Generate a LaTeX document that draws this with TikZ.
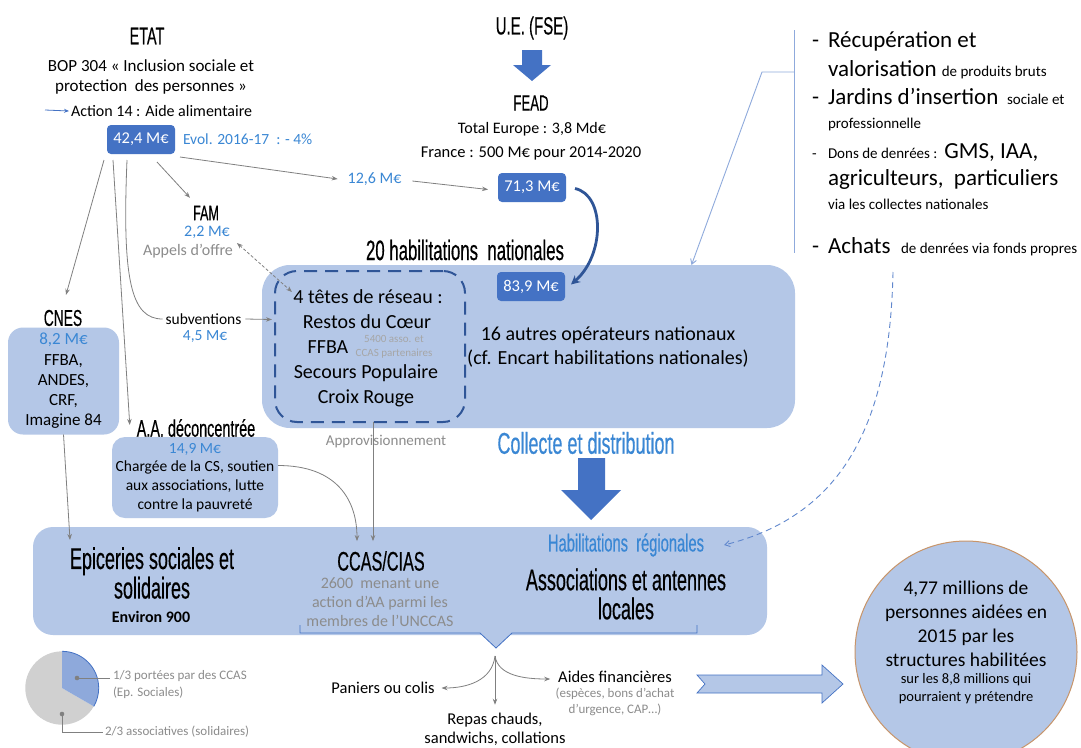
\documentclass[tikz,border=0pt]{standalone}
\usepackage{fontspec}
\setmainfont{Carlito}
\newfontfamily\cond[FakeStretch=0.6,FakeBold=0.4]{Liberation Sans}
\usetikzlibrary{arrows.meta,calc}
\definecolor{dblue}{HTML}{4472C4}
\definecolor{nblue}{HTML}{2F5597}
\definecolor{lblue}{HTML}{B4C7E7}
\definecolor{tblue}{HTML}{3A87D4}
\definecolor{lineblue}{HTML}{8FAADC}
\definecolor{agray}{HTML}{808080}
\definecolor{tgray}{HTML}{8C8C8C}
\definecolor{sgray}{HTML}{A6A6A6}
\definecolor{piegray}{HTML}{D0D0D0}
\definecolor{pieblue}{HTML}{8EA9DB}
\definecolor{ringc}{HTML}{C8956A}
\newcommand{\fsz}[2]{\fontsize{#1}{#2}\selectfont}
\begin{document}
\begin{tikzpicture}[x=1pt,y=-1pt,
  every node/.style={inner sep=0pt,outer sep=0pt,align=center},
  tx/.style 2 args={font=\fsz{#1}{#2}},
  hd/.style={font=\cond\fsz{#1}{#1}},
  hdd/.style 2 args={font=\cond\fsz{#1}{#2}},
  money/.style={fill=dblue,text=white,rounded corners=4pt,minimum width=68pt,minimum height=29pt,font=\fsz{16.5}{18}},
  lbox/.style={fill=lblue,draw=none},
  garr/.style={draw=agray,line width=0.8pt,-{Stealth[length=6pt,width=4.5pt]}},
  barb/.style={-{Straight Barb[length=5pt,width=6pt]}}]
\useasboundingbox (0,0) rectangle (1081,747);
\fill[white] (0,0) rectangle (1081,747);

% background boxes
\node[lbox,rounded corners=28pt,minimum width=533pt,minimum height=163pt] (hab) at (528.5,346.5) {};
\node[lbox,rounded corners=20pt,minimum width=734pt,minimum height=108pt] (bot) at (400,581) {};
\coordinate (ptip) at (496,648);
\fill[lblue] (480,633) -- (ptip) -- (512,633) -- cycle;
\draw[dblue,line width=0.8pt] (300,625) -- (300,633) -- (480,633) -- (ptip) -- (512,633) -- (697,633) -- (697,625);
\node[draw=nblue,line width=2pt,dash pattern=on 13pt off 8pt,rounded corners=22pt,minimum width=190pt,minimum height=151pt] (tetes) at (370,346.5) {};

% ETAT
\node[hd=24] (etat) at (147,36) {ETAT};
\node[tx={17}{20.7}] (bop) at (151,77) {BOP 304 « Inclusion sociale et\\protection\ \ des personnes »};
\node[anchor=west,tx={16}{18}] (act) at (71,111) {Action 14 : Aide alimentaire};
\coordinate (actarr) at (45,110);
\draw[dblue,line width=0.8pt,-{Stealth[length=5pt,width=4pt]}] (actarr) -- ($(act.west)+(-2,0)$);
\node[money] (b42) at (141,139.5) {42,4 M€};
\node[anchor=west,text=tblue,tx={15.5}{18}] (evol) at (183,139) {Evol. 2016-17\ \ : - 4\%};

% UE / FEAD
\node[hd=25] (ue) at (532,28) {U.E. (FSE)};
\fill[dblue] (522,50) -- (542,50) -- (542,65) -- (551,65) -- (532,81) -- (513,65) -- (522,65) -- cycle;
\node[hd=22] (fead) at (531,103) {FEAD};
\node[tx={16}{18}] (tot) at (532,129) {Total Europe : 3,8 Md€};
\node[tx={16.5}{18}] (fra) at (531,153) {France : 500 M€ pour 2014-2020};
\node[money] (b71) at (532,187.5) {71,3 M€};
\node[text=tblue,tx={16}{18}] (m126) at (374.5,179) {12,6 M€};
\draw[garr] ($(b42.south east)+(5,3)$) -- ($(m126.west)+(-10,0)$);
\draw[garr] ($(m126.east)+(11,2)$) -- ($(b71.west)+(-10,2)$);

% FAM
\node[hd=21] (fam) at (206,213) {FAM};
\node[text=tblue,tx={16}{18}] (famv) at (207,232) {2,2 M€};
\node[text=tgray,tx={16}{18}] (appel) at (188,251) {Appels d’offre};
\draw[garr] ($(b42.south)+(16,8)$) -- ($(fam.north)+(-16,-8)$);
\draw[garr,dash pattern=on 3pt off 2pt,{Stealth[length=6pt,width=4.5pt]}-{Stealth[length=6pt,width=4.5pt]}] ($(appel.east)+(4,-8)$) -- ($(tetes.north west)+(17,21)$);

% national habilitations
\node[hd=28] (hab20) at (465,250) {20 habilitations\ \ nationales};
\node[money] (b839) at (531,286.5) {83,9 M€};
\draw[nblue,line width=2.8pt,-{Stealth[length=9pt,width=9pt]}] ($(b71.east)+(9,1)$) .. controls (605,195) and (605,255) .. ($(b839.east)+(6,-2)$);
\node[tx={20}{24}] (t1) at (368,297) {4 têtes de réseau :};
\node[tx={20}{24}] (t2) at (367,322) {Restos du Cœur};
\node[tx={20}{24}] (t3) at (328,347) {FFBA};
\node[text=sgray,tx={11}{14}] (t3s) at (394,347) {5400 asso. et\\CCAS partenaires};
\node[tx={20}{24}] (t4) at (366,373) {Secours Populaire};
\node[tx={20}{24}] (t5) at (366,398) {Croix Rouge};
\node[tx={20}{24.5}] (ops) at (608,347) {16 autres opérateurs nationaux\\(cf. Encart habilitations nationales)};

% CNES
\node[hd=23] (cnes) at (63,318) {CNES};
\node[lbox,rounded corners=15pt,minimum width=111pt,minimum height=107pt,tx={17}{20.2}] (cnesbox) at (63.5,381) {\textcolor{tblue}{8,2 M€}\\FFBA,\\ANDES,\\CRF,\\Imagine 84};
\draw[garr] ($(b42.south west)+(-3,6)$) -- ($(cnes.north)+(3,-15)$);

% subventions
\node[tx={15.5}{18}] (subv) at (203.5,319) {subventions};
\node[text=tblue,tx={15.5}{18}] (subm) at (205,337) {4,5 M€};
\draw[agray,line width=0.8pt] ($(b42.south west)+(20,6)$) .. controls (122,280) and (131,319) .. ($(subv.west)+(-3,0)$);
\draw[garr] ($(subv.east)+(4,0)$) -- ($(tetes.west)+(-3,-27)$);

% AA deconcentree
\node[hd=24] (aah) at (196,428) {A.A. déconcentrée};
\node[lbox,rounded corners=13pt,minimum width=166pt,minimum height=81pt,tx={15.5}{18.6}] (aabox) at (195,477.5) {\textcolor{tblue}{14,9 M€}\\Chargée de la CS, soutien\\aux associations, lutte\\contre la pauvreté};
\draw[garr] ($(b42.south west)+(6,6)$) -- ($(aah.west)+(-7,-3)$);

\node[text=tgray,tx={15}{18}] (appro) at (386,442) {Approvisionnement};
\node[hd=30,text=tblue] (coll) at (586,443) {Collecte et distribution};
\fill[dblue] (578,458) -- (605,458) -- (605,490) -- (621,490) -- (591,520) -- (561,490) -- (578,490) -- cycle;

% bottom box texts
\node[hdd={30}{29.5}] (epi) at (152,573) {Epiceries sociales et\\solidaires};
\node[font=\bfseries\fsz{16}{18}] (env) at (151,617) {Environ 900};
\node[hd=27] (ccas) at (381,561) {CCAS/CIAS};
\node[text=tgray,tx={16}{19}] (ccasd) at (380,602) {2600\ \ menant une\\action d’AA parmi les\\membres de l’UNCCAS};
\node[hd=24.5,text=tblue] (hreg) at (626,545) {Habilitations\ \ régionales};
\node[hdd={30}{29}] (asso) at (626,594) {Associations et antennes\\locales};

\draw[garr] (cnesbox.south) -- ($(bot.north west)+(37,13)$);
\draw[garr] ($(aabox.east)+(0,-12)$) .. controls +(60,0) and +(0,-40) .. ($(ccas.north)+(-24,-10)$);
\draw[garr] ($(tetes.south)+(3,0)$) -- ($(ccas.north)+(-8,-10)$);

% right list
\coordinate (vtop) at (794,30);
\coordinate (vbot) at (794,253);
\coordinate (vmid) at (794,72);
\coordinate (vkink) at (762,72);
\draw[lineblue,line width=0.9pt] (vtop) -- (vbot);
\draw[lineblue,line width=0.9pt,barb] (vmid) -- (vkink) -- ($(hab.north)+(163,0)$);
\node[anchor=base west,tx={23}{26}] (r1d) at (812,47) {-};
\node[anchor=base west,tx={23}{26}] (r1) at (828,47) {Récupération et};
\node[anchor=base west,tx={23}{26}] (r2) at (828,76) {valorisation {\fsz{15}{18}de produits bruts}};
\node[anchor=base west,tx={23}{26}] (r3d) at (812,104) {-};
\node[anchor=base west,tx={23}{26}] (r3) at (828,104) {Jardins d’insertion {\fsz{15}{18}\ sociale et}};
\node[anchor=base west,tx={15}{18}] (r4) at (828,128) {professionnelle};
\node[anchor=base west,tx={15}{18}] (r5d) at (812,158) {-};
\node[anchor=base west,tx={23}{26}] (r5) at (828,158) {{\fsz{15}{18}Dons de denrées :} GMS, IAA,};
\node[anchor=base west,tx={23}{26}] (r6) at (828,185) {agriculteurs,\ \ particuliers};
\node[anchor=base west,tx={15}{18}] (r7) at (828,209) {via les collectes nationales};
\node[anchor=base west,tx={23}{26}] (r8d) at (812,253) {-};
\node[anchor=base west,tx={23}{26}] (r8) at (828,253) {Achats\ \ {\fsz{15}{18}de denrées via fonds propres}};
\coordinate (dstart) at (893,272);
\draw[dblue!85,line width=0.9pt,dash pattern=on 6pt off 4pt,barb] (dstart) .. controls (890,420) and (845,515) .. ($(hreg.east)+(20,0)$);

% pie
\coordinate (pc) at (62,688);
\fill[piegray] (pc) -- ($(pc)+(30:36.7)$) arc[start angle=30,end angle=270,radius=36.7] -- cycle;
\fill[pieblue] (pc) -- ($(pc)+(-90:36.7)$) arc[start angle=-90,end angle=30,radius=36.7] -- cycle;
\draw[dblue,line width=0.8pt] ($(pc)+(-90:36.7)$) arc[start angle=-90,end angle=30,radius=36.7];
\coordinate (pd1) at (77,678);
\coordinate (pd2) at (62,714);
\fill[agray] (pd1) circle (2.3);
\fill[agray] (pd2) circle (2.3);
\node[anchor=west,align=left,text=tgray,tx={13}{17}] (lab1) at (113,685) {1/3 portées par des CCAS\\(Ep. Sociales)};
\node[anchor=west,text=tgray,tx={13}{16}] (lab2) at (105,732) {2/3 associatives (solidaires)};
\draw[agray,line width=0.8pt] (pd1) -- ($(pd1 -| lab1.west)+(-3,0)$);
\draw[agray,line width=0.8pt] (pd2) |- ($(lab2.west)+(-2,0)$);

% distribution
\coordinate (dist) at (495,656);
\node[tx={16.5}{19}] (paniers) at (383,688) {Paniers ou colis};
\node[tx={16.5}{19}] (repas) at (495,729) {Repas chauds,\\sandwichs, collations};
\node[tx={16.5}{19}] (aides) at (615,677) {Aides financières};
\node[text=tgray,tx={13}{16}] (aidesd) at (615,702) {(espèces, bons d’achat\\d’urgence, CAP…)};
\draw[garr] (dist) .. controls +(-3,25) and +(25,0) .. ($(paniers.east)+(7,0)$);
\draw[garr] (dist) -- ($(repas.north)+(0,-8)$);
\draw[garr] (dist) .. controls +(3,20) and +(-25,0) .. ($(aides.west)+(-8,2)$);

% block arrow
\fill[lblue] (697,675) -- (822,675) -- (822,665) -- (843,684) -- (822,703) -- (822,693) -- (697,693) -- (705,684) -- cycle;
\draw[dblue,line width=0.7pt] (697,675) -- (822,675) -- (822,665) -- (843,684) -- (822,703) -- (822,693) -- (697,693) -- (705,684) -- cycle;

% circle
\node[circle,fill=lblue,draw=ringc,line width=1pt,minimum size=222pt] (ppl) at (966,652) {};
\node[tx={19.5}{24}] (pplt) at (966,624) {4,77 millions de\\personnes aidées en\\2015 par les\\structures habilitées};
\node[tx={14.5}{18}] (ppls) at (966,689) {sur les 8,8 millions qui\\pourraient y prétendre};
\end{tikzpicture}
\end{document}
